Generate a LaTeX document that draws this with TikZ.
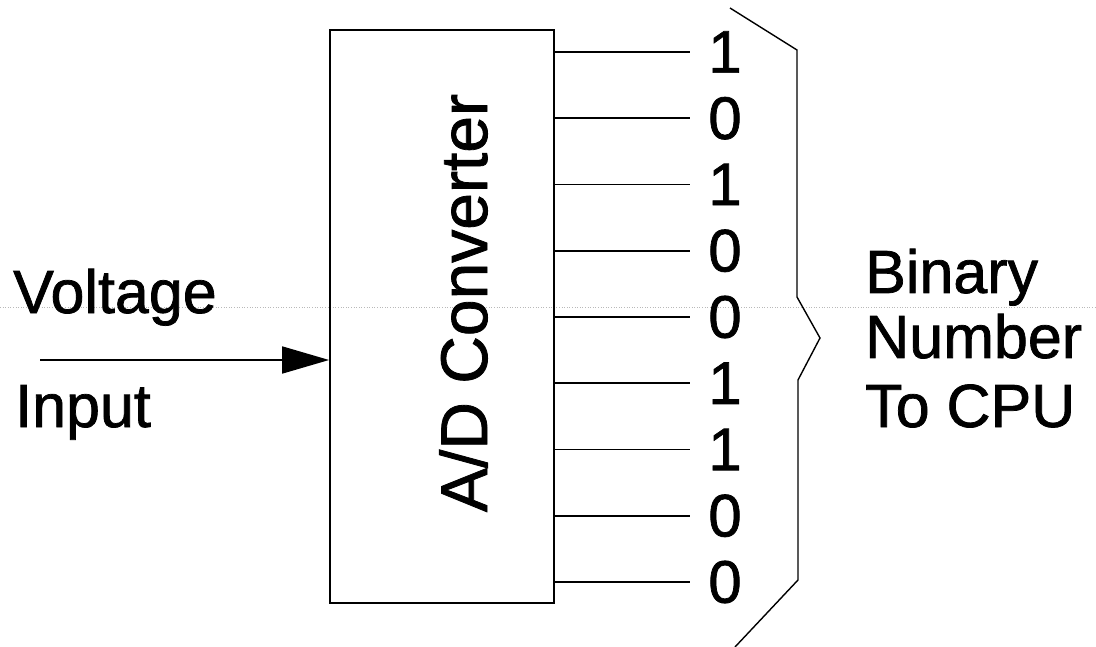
\documentclass[tikz,border=0pt]{standalone}
\usepackage{fontspec}
\setmainfont{Liberation Sans}
\newfontfamily\medfont{Liberation Sans}[FakeBold=1.2]
\usetikzlibrary{arrows.meta}
\begin{document}
\begin{tikzpicture}[x=1pt,y=-1pt,
  lbl/.style={inner sep=0pt, anchor=base west, font=\medfont\fontsize{61}{61}\selectfont},
  digit/.style={inner xsep=18pt, inner ysep=0pt, font=\medfont\fontsize{60}{60}\selectfont},
  wire/.style={line width=1.8pt},
  boxst/.style={draw, line width=1.8pt, minimum width=224pt, minimum height=573pt, inner sep=0pt},
  bracest/.style={line width=1.4pt, line join=miter}]
\useasboundingbox (0,0) rectangle (1096,647);
\draw[gray!55, dotted, line width=0.6pt] (0,307) -- (1096,307);
\node[boxst] (adc) at (442,316.5) {};
\node[rotate=90, anchor=base, inner sep=0pt, font=\medfont\fontsize{66}{66}\selectfont] (adclabel) at (487,303) {A/D Converter};
\foreach \i/\b in {1/1,2/0,3/1,4/0,5/0,6/1,7/1,8/0,9/0}{
  \pgfmathsetmacro{\yy}{52+(\i-1)*66.25}
  \node[digit] (d\i) at (725,\yy) {\b};
  \draw[wire] (adc.east |- d\i.west) -- (d\i.west);
}
\node[lbl] (volt) at (13,313) {Voltage};
\node[lbl] (inp) at (15,427) {Input};
\coordinate (src) at (40,360);
\draw[wire, -{Triangle[length=47pt,width=27pt]}] (src) -- (adc.west |- src);
\draw[bracest] (730,8) -- (797,50) -- (797,297) -- (820,338) -- (798,380) -- (798,580) -- (735,647);
\node[lbl] (bin) at (865,293) {Binary};
\node[lbl] (num) at (865,358) {Number};
\node[lbl] (cpu) at (865,427) {To CPU};
\end{tikzpicture}
\end{document}
